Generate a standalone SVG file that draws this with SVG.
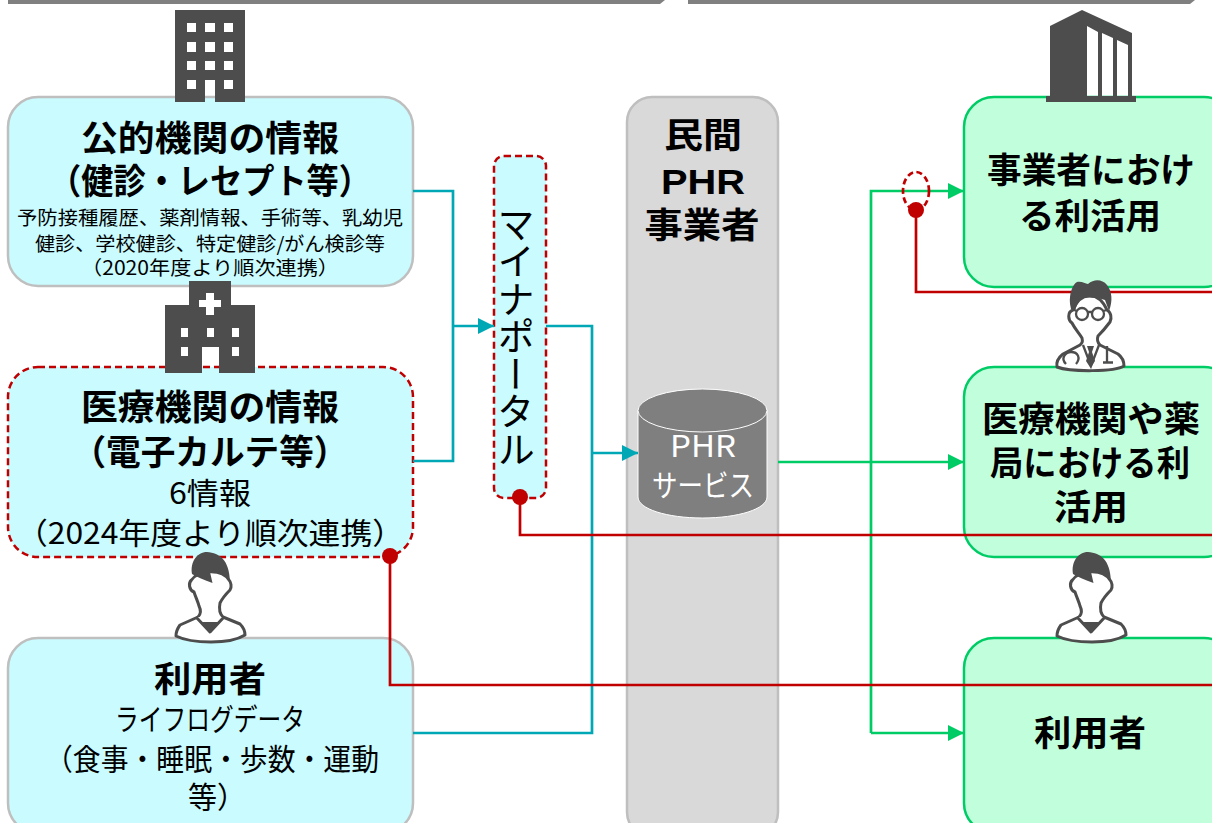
<svg xmlns="http://www.w3.org/2000/svg" xmlns:xlink="http://www.w3.org/1999/xlink" width="1212" height="823" viewBox="0 0 1212 823">
<style>
text{font-family:"Noto Sans CJK JP","Noto Sans",sans-serif;text-anchor:middle;fill:#000}
.t{font-size:35px;font-weight:700}
.r{font-size:30px}
.s{font-size:19.5px}
.box{stroke-width:2.5}
.blue{fill:#c9fbff;stroke:#bfbfbf}
.green{fill:#c1ffdc;stroke:#00cc66}
.dash{fill:#c9fbff;stroke:#c00000;stroke-dasharray:7 4}
.ic{fill:#4d4d4d}
.conn{fill:none;stroke-width:2.7}
.te{stroke:#00a8b5}.gr{stroke:#00cc66}.re{stroke:#c00000}
.dot{fill:#c00000}
.pl{fill:#fff;stroke:#4d4d4d;stroke-width:3;stroke-linejoin:round}
</style>
<defs>
<marker id="at" markerUnits="userSpaceOnUse" markerWidth="18" markerHeight="18" refX="16" refY="8" orient="auto"><path d="M0 0L16 8L0 16z" fill="#00a8b5"/></marker>
<marker id="ag" markerUnits="userSpaceOnUse" markerWidth="18" markerHeight="18" refX="16" refY="8" orient="auto"><path d="M0 0L16 8L0 16z" fill="#00cc66"/></marker>
<g id="person">
<path class="pl" d="M191.500 580C188 583 189 590 194 592C196 598 198 602 199 606C201 610 201 614 198 617L180 625C177 629 176 632 176 636C184 640 197 642 211 642C225 642 237 640 245 635C245 630 243 627 240 624L223 617C219 613 219 608 220 603C223 597 227 593 230 590C232 587 231 582 229 580C223 570 200 568 191.500 580Z"/>
<path class="pl" fill="none" d="M196 617L210 632L224 617"/>
<path class="ic" d="M201 622L210 632.500L219 622z"/>
<path class="ic" d="M192 574C190 562 197 552 207 552C220 553 229 560 230 581L222 573C219 573 214 572 210 572L212.500 583C204 580 197 577 192 574Z"/>
</g>
</defs>
<g id="top-bars">
<path d="M8 0H665L660 4H8z" fill="#808080"/>
<path d="M688 0H1195L1190 4H688z" fill="#808080"/>
</g>
<g id="node-public">
<rect class="box blue" x="8" y="97" width="405" height="189" rx="30"/>
<text class="t" x="210" y="151" textLength="258" lengthAdjust="spacingAndGlyphs">公的機関の情報</text>
<text class="t" x="210" y="194" textLength="322" lengthAdjust="spacingAndGlyphs">（健診・レセプト等）</text>
<text class="s" x="210" y="225" textLength="386" lengthAdjust="spacingAndGlyphs">予防接種履歴、薬剤情報、手術等、乳幼児</text>
<text class="s" x="210" y="251" textLength="350" lengthAdjust="spacingAndGlyphs">健診、学校健診、特定健診/がん検診等</text>
<text class="s" x="210" y="275" textLength="258" lengthAdjust="spacingAndGlyphs">（2020年度より順次連携）</text>
</g>
<g id="node-medical">
<rect class="box dash" x="8" y="367" width="405" height="190" rx="30"/>
<text class="t" x="210" y="420" textLength="258" lengthAdjust="spacingAndGlyphs">医療機関の情報</text>
<text class="t" x="210" y="465" textLength="277" lengthAdjust="spacingAndGlyphs">（電子カルテ等）</text>
<text class="r" x="210" y="504" textLength="82" lengthAdjust="spacingAndGlyphs">6情報</text>
<text class="r" x="210" y="544" textLength="388" lengthAdjust="spacingAndGlyphs">（2024年度より順次連携）</text>
</g>
<g id="node-user-source">
<rect class="box blue" x="8" y="638" width="405" height="195" rx="30"/>
<text class="t" x="210" y="692" textLength="112" lengthAdjust="spacingAndGlyphs">利用者</text>
<text class="r" x="210" y="730" textLength="190" lengthAdjust="spacingAndGlyphs">ライフログデータ</text>
<text class="r" x="212" y="770" textLength="334" lengthAdjust="spacingAndGlyphs">（食事・睡眠・歩数・運動</text>
<text class="r" x="217" y="808" textLength="58" lengthAdjust="spacingAndGlyphs">等）</text>
</g>
<g id="node-portal">
<rect class="box dash" x="494" y="156" width="52" height="342" rx="10"/>
<text x="516" y="336" style="font-size:37.500px;writing-mode:vertical-rl">マイナポータル</text>
</g>
<g id="node-phr">
<rect x="627" y="97" width="151" height="740" rx="25" fill="#d9d9d9" stroke="#bfbfbf" stroke-width="2.500"/>
<text class="t" x="703" y="148" textLength="78" lengthAdjust="spacingAndGlyphs">民間</text>
<text class="t" x="703" y="194" textLength="84" lengthAdjust="spacingAndGlyphs" style="font-family:'Liberation Sans',sans-serif">PHR</text>
<text class="t" x="702" y="238" textLength="115" lengthAdjust="spacingAndGlyphs">事業者</text>
</g>
<g id="node-phr-service">
<path d="M638 410V497C638 509 667 518 702.500 518C738 518 767 509 767 497V410z" fill="#7f7f7f" stroke="#fff"/>
<ellipse cx="702.500" cy="410.500" rx="64.500" ry="21.500" fill="#7f7f7f" stroke="#fff"/>
<text x="703" y="457" style="font-size:30px;fill:#fff" textLength="66" lengthAdjust="spacingAndGlyphs">PHR</text>
<text x="703" y="496" style="font-size:30px;fill:#fff" textLength="102" lengthAdjust="spacingAndGlyphs">サービス</text>
</g>
<g id="node-business">
<rect class="box green" x="964" y="97" width="270" height="190" rx="30"/>
<text class="t" x="1091" y="183" textLength="208" lengthAdjust="spacingAndGlyphs">事業者におけ</text>
<text class="t" x="1090" y="229" textLength="142" lengthAdjust="spacingAndGlyphs">る利活用</text>
</g>
<g id="node-clinic">
<rect class="box green" x="964" y="367" width="270" height="190" rx="30"/>
<text class="t" x="1091" y="432" textLength="218" lengthAdjust="spacingAndGlyphs">医療機関や薬</text>
<text class="t" x="1090" y="476" textLength="200" lengthAdjust="spacingAndGlyphs">局における利</text>
<text class="t" x="1091" y="520" textLength="74" lengthAdjust="spacingAndGlyphs">活用</text>
</g>
<g id="node-user">
<rect class="box green" x="964" y="638" width="270" height="195" rx="30"/>
<text class="t" x="1090" y="746" textLength="112" lengthAdjust="spacingAndGlyphs">利用者</text>
</g>
<g id="connectors">
<path class="conn te" d="M413 191H453V461H413"/>
<path class="conn te" d="M453 326H494" marker-end="url(#at)"/>
<path class="conn te" d="M546 326H592V733H413"/>
<path class="conn te" d="M592 453H638" marker-end="url(#at)"/>
<path class="conn gr" d="M778 462H964" marker-end="url(#ag)"/>
<path class="conn gr" d="M871 733V191H964" marker-end="url(#ag)"/>
<path class="conn gr" d="M871 733H964" marker-end="url(#ag)"/>
<ellipse class="conn re" cx="916" cy="191" rx="13" ry="19" stroke-dasharray="6 3.500"/>
<path class="conn re" d="M916 210V292H1212"/>
<path class="conn re" d="M520 497V535H1212"/>
<path class="conn re" d="M390 556V685H1212"/>
<circle class="dot" cx="916" cy="210" r="8"/>
<circle class="dot" cx="520" cy="497" r="8"/>
<circle class="dot" cx="390" cy="556" r="8"/>
</g>
<g id="icon-office">
<path class="ic" fill-rule="evenodd" d="M175 10H245V102H215V80H205V102H175zM187 23v9h9v-9zM205 23v9h10v-9zM224 23v9h9v-9zM187 42v10h9v-10zM205 42v10h10v-10zM224 42v10h9v-10zM187 61v9h9v-9zM205 61v9h10v-9zM224 61v9h9v-9zM187 80v9h9v-9zM224 80v9h9v-9z"/>
</g>
<g id="icon-hospital">
<path class="ic" fill-rule="evenodd" d="M189 281H231V305H255V373H219V347H202V373H165V305H189zM206 293v7h-7v7h7v8h8v-8h7v-7h-7v-7zM181 328v9h7v-9zM207 328v9h7v-9zM232 328v9h7v-9zM181 347v9h7v-9zM232 347v9h7v-9z"/>
</g>
<g id="icon-person-left"><use xlink:href="#person" href="#person"/></g>
<g id="icon-person-right"><use xlink:href="#person" href="#person" x="881"/></g>
<g id="icon-company">
<path class="ic" fill-rule="evenodd" d="M1050 26L1082 10L1132 33V96H1136V102H1046V96H1050zM1087 26V96H1098V32zM1102 33V96H1113V38zM1117 40V96H1128V45z"/>
</g>
<g id="icon-doctor">
<path class="pl" d="M1073 310C1067 312 1068 320 1072 323C1075 329 1079 333 1082 338C1083 342 1082 343 1080 345L1063 354C1058 358 1056 362 1057 367C1070 372 1115 372 1124 366C1124 361 1122 357 1118 354L1100 345C1097 342 1097 339 1098 336C1103 331 1107 326 1110 322C1112 318 1111 312 1107 310C1098 290 1080 292 1073 310Z"/>
<path class="ic" d="M1070 304C1069 293 1073 284 1077 282C1082 281 1085 284 1088 284C1094 279 1102 279 1107 285C1112 291 1113 301 1109 311L1105 300C1098 297 1088 297 1082 298C1079 301 1076 306 1075 311L1071 309Z"/>
<g fill="none" stroke="#4d4d4d" stroke-width="2.300">
<circle cx="1082" cy="314" r="6"/><circle cx="1098" cy="314" r="6"/>
<path d="M1074 310L1077 311M1088 312H1092M1103 311L1107 310"/>
<path d="M1083 345L1091 366L1099 345"/>
<path d="M1066 364C1060 358 1066 352 1071 352C1078 352 1081 358 1076 364"/>
<path d="M1107 346V362M1103 362.500H1113"/>
</g>
<path class="ic" d="M1087 346H1094L1092 352L1095 361L1090.500 368L1086 361L1089 352z"/>
</g>
</svg>
